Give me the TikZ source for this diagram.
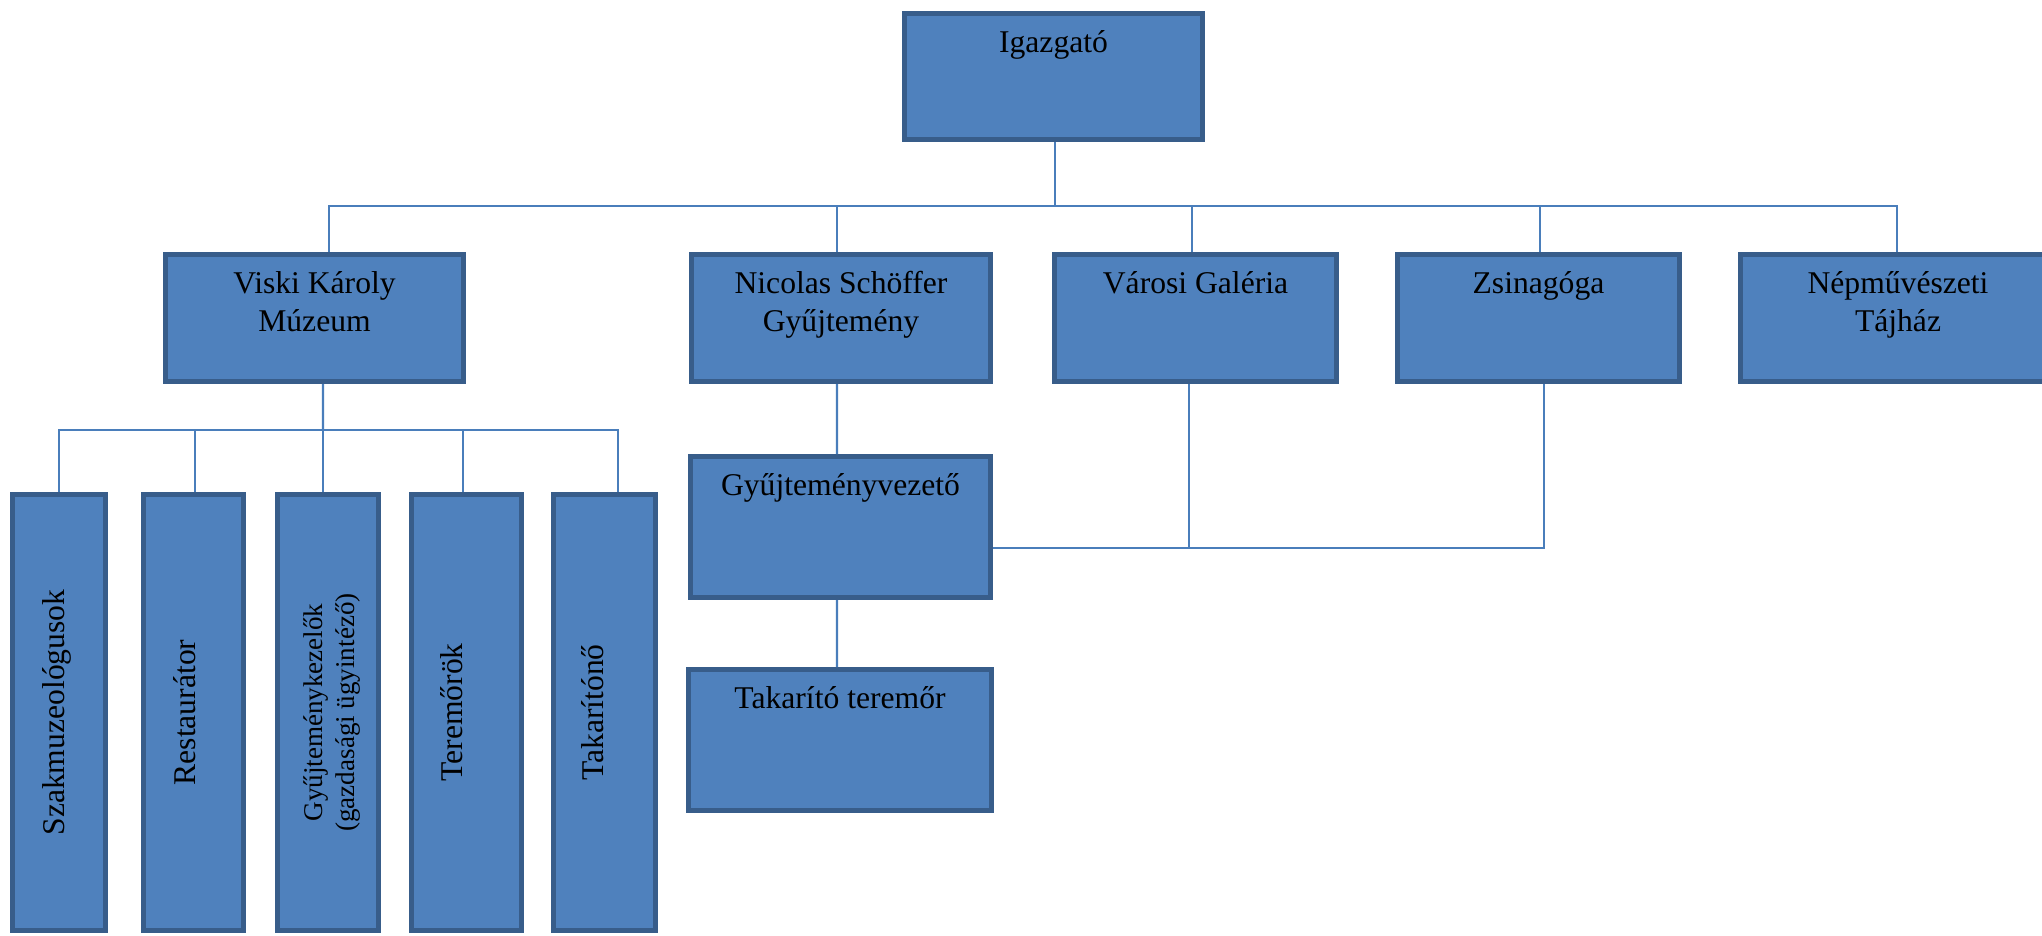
\documentclass[tikz,border=0pt]{standalone}
\usepackage{fontspec}
\setmainfont{Liberation Serif}
\definecolor{boxfill}{HTML}{4F81BD}
\definecolor{boxedge}{HTML}{385D8A}
\definecolor{linkcol}{HTML}{4A7EBB}

\begin{document}
\begin{tikzpicture}[
  unit/.style={draw=boxedge, fill=boxfill, line width=0.05cm, inner sep=0pt},
  dept/.style={unit, minimum height=1.27cm, minimum width=#1},
  staff/.style={unit, minimum height=4.36cm, minimum width=#1},
  ulabel/.style={anchor=north, inner sep=0pt, align=center,
    font=\fontsize{9pt}{10.8pt}\selectfont},
  rlabel/.style={rotate=90, inner sep=0pt, align=center,
    font=\fontsize{9pt}{10.8pt}\selectfont},
  link/.style={draw=linkcol, line width=0.6pt}
]
\useasboundingbox (0,0) rectangle (20.42,-9.35);

% Top
\node[unit, minimum width=2.98cm, minimum height=1.26cm] (igaz) at (10.535,-0.765) {};
\node[ulabel] (igaz-t) at ([yshift=-1.4mm]igaz.north) {\strut Igazgató};

% Five institutions
\node[dept=2.98cm] (viski) at (3.145,-3.18) {};
\node[ulabel] (viski-t) at ([yshift=-1.4mm]viski.north) {\strut Viski Károly\\Múzeum};

\node[dept=2.99cm] (schoffer) at (8.41,-3.18) {};
\node[ulabel] (schoffer-t) at ([yshift=-1.4mm]schoffer.north) {\strut Nicolas Schöffer\\Gyűjtemény};

\node[dept=2.82cm] (galeria) at (11.955,-3.18) {};
\node[ulabel] (galeria-t) at ([yshift=-1.4mm]galeria.north) {\strut Városi Galéria};

\node[dept=2.82cm] (zsinagoga) at (15.385,-3.18) {};
\node[ulabel] (zsinagoga-t) at ([yshift=-1.4mm]zsinagoga.north) {\strut Zsinagóga};

\node[dept=3.15cm] (tajhaz) at (18.98,-3.18) {};
\node[ulabel] (tajhaz-t) at ([yshift=-1.4mm]tajhaz.north) {\strut Népművészeti\\Tájház};

% Middle column
\node[unit, minimum width=3.00cm, minimum height=1.41cm] (vezeto) at (8.405,-5.27) {};
\node[ulabel] (vezeto-t) at ([yshift=-1.4mm]vezeto.north) {\strut Gyűjteményvezető};

\node[unit, minimum width=3.03cm, minimum height=1.41cm] (takterem) at (8.40,-7.40) {};
\node[ulabel] (takterem-t) at ([yshift=-1.4mm]takterem.north) {\strut Takarító teremőr};

% Museum staff
\node[staff=0.93cm] (szak) at (0.59,-7.125) {};
\node[rlabel] (szak-t) at ([xshift=-0.2mm]szak.center) {Szakmuzeológusok};

\node[staff=1.00cm] (rest) at (1.935,-7.125) {};
\node[rlabel] (rest-t) at ([xshift=-0.85mm]rest.center) {Restaurátor};

\node[staff=1.01cm] (gyk) at (3.28,-7.125) {};
\node[rlabel, font=\fontsize{7.7pt}{9.1pt}\selectfont] (gyk-t) at ([xshift=0.4mm]gyk.center)
  {Gyűjteménykezelők\\(gazdasági ügyintéző)};

\node[staff=1.10cm] (terem) at (4.665,-7.125) {};
\node[rlabel] (terem-t) at ([xshift=-1.45mm]terem.center) {Teremőrök};

\node[staff=1.02cm] (takn) at (6.045,-7.125) {};
\node[rlabel] (takn-t) at ([xshift=-1.15mm]takn.center) {Takarítónő};

% Connectors
\coordinate (hub) at (10.55,-2.06);
\draw[link] ([xshift=0.15mm]igaz.south) -- (hub);
\draw[link] ([xshift=1.45mm]viski.north) |- (hub);
\draw[link] ([xshift=-0.4mm]schoffer.north) |- (hub);
\draw[link] ([xshift=-0.35mm]galeria.north) |- (hub);
\draw[link] ([xshift=0.15mm]zsinagoga.north) |- (hub);
\draw[link] ([xshift=-0.1mm]tajhaz.north) |- (hub);

\coordinate (vhub) at (3.23,-4.30);
\draw[link] ([xshift=0.85mm]viski.south) -- (vhub);
\draw[link] (szak.north) |- (vhub);
\draw[link] ([xshift=0.15mm]rest.north) |- (vhub);
\draw[link] ([xshift=-0.5mm]gyk.north) |- (vhub);
\draw[link] ([xshift=-0.35mm]terem.north) |- (vhub);
\draw[link] ([xshift=1.35mm]takn.north) |- (vhub);

\draw[link] ([xshift=-0.4mm]schoffer.south) -- ([xshift=-0.35mm]vezeto.north);
\draw[link] ([xshift=-0.35mm]vezeto.south) -- ([xshift=-0.3mm]takterem.north);
\draw[link] ([yshift=-2.1mm]vezeto.east) -| ([xshift=0.55mm]zsinagoga.south);
\draw[link] ([xshift=-0.65mm]galeria.south) |- ([yshift=-2.1mm]vezeto.east);

\end{tikzpicture}
\end{document}
